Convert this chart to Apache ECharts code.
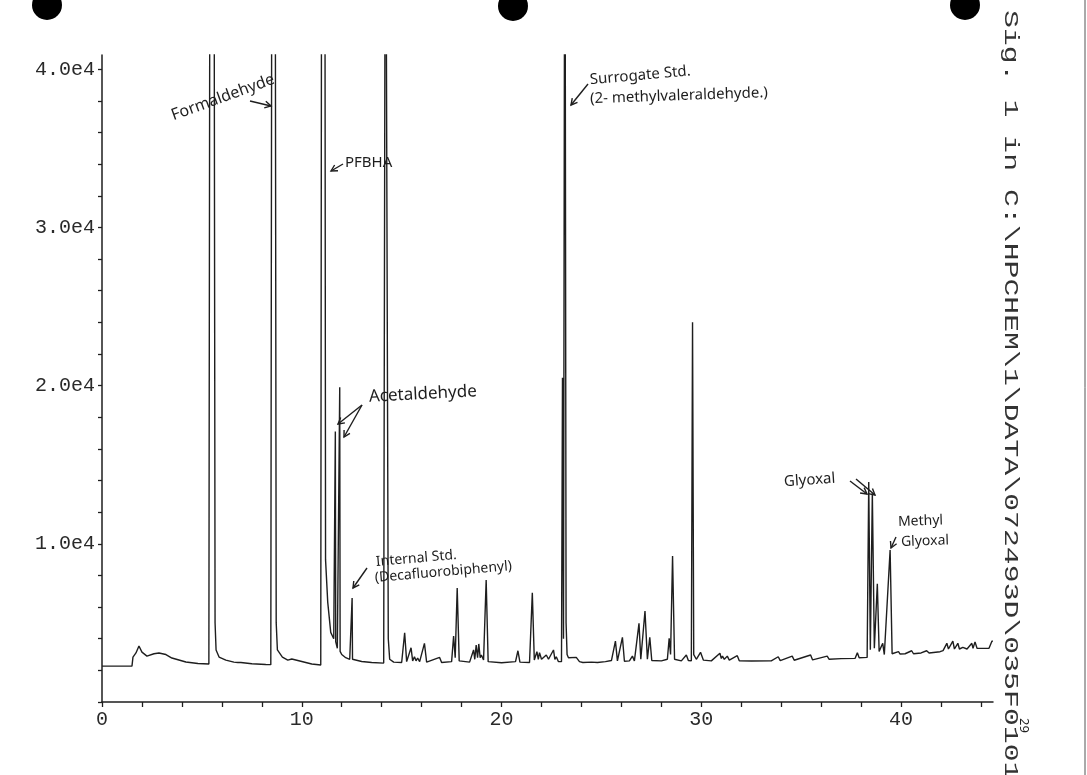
<!DOCTYPE html>
<html>
<head>
<meta charset="utf-8">
<script src="https://cdn.jsdelivr.net/npm/echarts@6/dist/echarts.min.js"></script>
<style>
html,body{margin:0;padding:0;background:#fff;}
#chart{width:1087px;height:775px;}
</style>
</head>
<body>
<div id="chart"></div>
<script>
// Retention time (min) and detector signal
const retentionTime = [
  0, 1.5, 1.55, 1.7, 1.85, 2.0, 2.25, 2.6, 2.85, 3.2, 3.5, 4.2, 4.8, 5.35,
  5.39, 5.41, 5.60, 5.66, 5.71, 5.86, 6.2, 6.6, 6.8, 6.87, 6.95, 7.5, 8.2, 8.45,
  8.49, 8.51, 8.66, 8.72, 8.78, 9.03, 9.3, 9.5, 9.6, 10.5, 10.95,
  10.98, 11.0, 11.15, 11.19, 11.3, 11.45, 11.6, 11.66, 11.68, 11.7, 11.78, 11.88, 11.9, 11.92, 12.0, 12.2, 12.4, 12.5, 12.52, 12.54, 12.6, 13.0, 13.5, 14.1,
  14.17, 14.19, 14.27, 14.33, 14.4, 14.6, 15.0, 15.15, 15.25, 15.47, 15.55, 15.64, 15.72, 15.8, 15.9, 16.14, 16.25, 16.9, 17.0,
  17.5, 17.6, 17.68, 17.78, 17.88, 18.4, 18.6, 18.66, 18.73, 18.8, 18.86, 18.93, 18.99, 19.1, 19.23, 19.33,
  20.0, 20.7, 20.82, 20.92, 21.4, 21.54, 21.64, 21.77, 21.84, 21.9, 22.0, 22.24, 22.35, 22.6, 22.67, 22.74, 22.85,
  23.0, 23.05, 23.1, 23.17, 23.19, 23.23, 23.28, 23.35, 23.74, 23.9, 24.07, 24.5, 24.8, 25.2, 25.5,
  25.7, 25.8, 26.05, 26.15, 26.4, 26.55, 26.65, 26.88, 26.97, 27.18, 27.3, 27.42, 27.52, 28.0, 28.3,
  28.39, 28.46, 28.56, 28.66, 29.0, 29.25, 29.35, 29.5, 29.56, 29.62, 29.75, 29.96, 30.1, 30.5,
  30.93, 31.0, 31.06, 31.15, 31.3, 31.4, 31.8, 31.9, 32.5, 33.5, 33.85, 33.95, 34.55, 34.65,
  35.47, 35.57, 36.3, 36.4, 37.0, 37.7, 37.81, 37.9, 38.3,
  38.38, 38.46, 38.56, 38.66, 38.81, 38.9, 39.08, 39.16, 39.45, 39.55, 39.87, 39.95, 40.2,
  40.53, 40.62, 41.0, 41.28, 41.4, 41.95, 42.1, 42.29, 42.37, 42.59, 42.67, 42.84, 42.92,
  43.09, 43.3, 43.54, 43.6, 43.7, 43.8, 44.04, 44.4, 44.55, 44.6
];
const signal = [
  2270, 2270, 2840, 3100, 3540, 3150, 2900, 3050, 3100, 3000, 2780, 2530, 2430, 2400,
  2400, 60000, 60000, 5000, 3290, 2840, 2650, 2520, 2500, 2620, 2500, 2420, 2370, 2360,
  2360, 60000, 60000, 5000, 3290, 2840, 2650, 2720, 2600, 2400, 2340,
  2340, 60000, 60000, 9000, 6300, 4400, 4000, 3900, 17100, 3800, 3400, 3300, 19900, 3200, 3000, 2800, 2700, 2700, 6570, 2700, 2650, 2560, 2500, 2460,
  2460, 60000, 60000, 4000, 2700, 2520, 2500, 4380, 2550, 3430, 2600, 2860, 2600, 2780, 2550, 3710, 2520, 2820, 2500,
  2550, 4170, 2800, 7200, 2600, 2520, 3290, 2700, 3600, 2800, 3670, 2800, 2970, 2650, 7710, 2550,
  2480, 2550, 3240, 2520, 2500, 6910, 2650, 3180, 2700, 3120, 2700, 2970, 2700, 3290, 2700, 2860, 2550,
  2550, 20500, 4000, 60000, 60000, 5000, 3000, 2800, 2820, 2550, 2500, 2520, 2500, 2550, 2620,
  3850, 2600, 4090, 2580, 2600, 2900, 2600, 4970, 2700, 5750, 2700, 4090, 2620, 2600, 2700,
  4020, 3000, 9230, 2700, 2600, 2970, 2620, 2600, 24000, 3000, 2700, 3140, 2650, 2600,
  3080, 2750, 2900, 2700, 2900, 2650, 2930, 2600, 2590, 2600, 2860, 2620, 2900, 2640,
  2970, 2660, 2900, 2700, 2740, 2760, 3120, 2800, 2820,
  13900, 3300, 13200, 3400, 7480, 3200, 3710, 3000, 9610, 3050, 3180, 3030, 3050,
  3240, 3050, 3100, 3240, 3100, 3180, 3250, 3710, 3350, 3850, 3350, 3710, 3350,
  3450, 3350, 3710, 3400, 3800, 3400, 3390, 3400, 3850, 3850
];
const xLabelValues = [0, 10, 20, 30, 40];
const yLabelValues = [10000, 20000, 30000, 40000];

const xTickValues = [];
for (let v = 0; v <= 44; v += 2) xTickValues.push(v);
const yTickValues = [];
for (let v = 0; v <= 40000; v += 2000) yTickValues.push(v);

const trace = retentionTime.map((t, i) => [t, signal[i]]);

const INK = '#1e1e1e';
const HAND = '"Noto Sans", "DejaVu Sans", sans-serif';
const MONO = '"Liberation Mono", "DejaVu Sans Mono", monospace';

function note(text, x, y, deg, size) {
  return {
    type: 'text', x: x, y: y, rotation: deg * Math.PI / 180,
    style: { text: text, font: size + 'px ' + HAND, fill: INK,
             textAlign: 'left', textVerticalAlign: 'middle', align: 'left', verticalAlign: 'middle' }
  };
}
function arrow(x1, y1, x2, y2) {
  const a = Math.atan2(y2 - y1, x2 - x1), h = 7;
  return {
    type: 'group',
    children: [
      { type: 'line', shape: { x1: x1, y1: y1, x2: x2, y2: y2 }, style: { stroke: INK, lineWidth: 1.4 } },
      { type: 'polyline', shape: { points: [
          [x2 - h * Math.cos(a - 0.5), y2 - h * Math.sin(a - 0.5)], [x2, y2],
          [x2 - h * Math.cos(a + 0.5), y2 - h * Math.sin(a + 0.5)] ] },
        style: { stroke: INK, fill: null, lineWidth: 1.4 } }
    ]
  };
}

const chart = echarts.init(document.getElementById('chart'), null, { renderer: 'canvas' });
chart.setOption({
  animation: false,
  backgroundColor: '#ffffff',
  grid: { left: 102, right: 94, top: 55, bottom: 73, containLabel: false, outerBoundsMode: 'none' },
  xAxis: {
    type: 'value', min: 0, max: 44.6,
    axisLine: { show: true, onZero: false, lineStyle: { color: INK, width: 1.5 } },
    axisTick: { show: true, length: 5, inside: false, customValues: xTickValues, lineStyle: { color: INK, width: 1.3 } },
    axisLabel: {
      show: true, customValues: xLabelValues, margin: 8,
      fontFamily: MONO, fontSize: 20, color: '#2a2a2a',
      formatter: v => String(v)
    },
    splitLine: { show: false }
  },
  yAxis: {
    type: 'value', min: 0, max: 40900,
    axisLine: { show: true, onZero: false, lineStyle: { color: INK, width: 1.5 } },
    axisTick: { show: true, length: 4, inside: false, customValues: yTickValues, lineStyle: { color: INK, width: 1.3 } },
    axisLabel: {
      show: true, customValues: yLabelValues, margin: 7,
      fontFamily: MONO, fontSize: 20, color: '#2a2a2a',
      formatter: v => (v / 10000).toFixed(1) + 'e4'
    },
    splitLine: { show: false }
  },
  series: [{
    type: 'line',
    data: trace,
    showSymbol: false,
    symbol: 'none',
    clip: true,
    lineStyle: { color: INK, width: 1.4 },
    emphasis: { disabled: true }
  }],
  graphic: [
    // punch holes
    { type: 'circle', shape: { cx: 47, cy: 5, r: 15 }, style: { fill: '#000' } },
    { type: 'circle', shape: { cx: 513, cy: 6, r: 15 }, style: { fill: '#000' } },
    { type: 'circle', shape: { cx: 965, cy: 5, r: 15 }, style: { fill: '#000' } },
    // page edge
    { type: 'line', shape: { x1: 1085, y1: 0, x2: 1085, y2: 775 }, style: { stroke: '#555', lineWidth: 1 } },
    // signal file path (stretched along its length like the plotter print)
    { type: 'text', x: 1011, y: 10, rotation: -Math.PI / 2, scaleX: 1.42, scaleY: 1,
      style: { text: 'Sig. 1 in C:\\HPCHEM\\1\\DATA\\072493D\\035F0101.D',
               font: '21px ' + MONO, fill: '#333',
               textAlign: 'left', textVerticalAlign: 'middle', align: 'left', verticalAlign: 'middle' } },
    { type: 'text', x: 1024, y: 718, rotation: -Math.PI / 2,
      style: { text: '29', font: '13px ' + HAND, fill: INK,
               textAlign: 'left', textVerticalAlign: 'middle', align: 'left', verticalAlign: 'middle' } },
    // annotations
    note('Formaldehyde', 172, 116, 20, 16),
    arrow(250, 101, 271, 106),
    note('PFBHA', 345, 163, 0, 15),
    arrow(343, 164, 331, 171),
    note('Acetaldehyde', 369, 397, 3, 17),
    arrow(362, 405, 338, 424),
    arrow(362, 405, 344, 437),
    note('Internal Std.', 376, 562, 5, 14),
    note('(Decafluorobiphenyl)', 375, 578, 5, 14),
    arrow(367, 568, 353, 588),
    note('Surrogate Std.', 590, 80, 5, 15),
    note('(2- methylvaleraldehyde.)', 590, 99, 2, 15),
    arrow(588, 84, 571, 105),
    note('Glyoxal', 784, 482, 4, 15),
    arrow(850, 481, 867, 494),
    arrow(856, 479, 875, 495),
    note('Methyl', 898, 522, 2, 14),
    note('Glyoxal', 901, 542, 2, 14),
    arrow(896, 537, 891, 548)
  ]
});
</script>
</body>
</html>
